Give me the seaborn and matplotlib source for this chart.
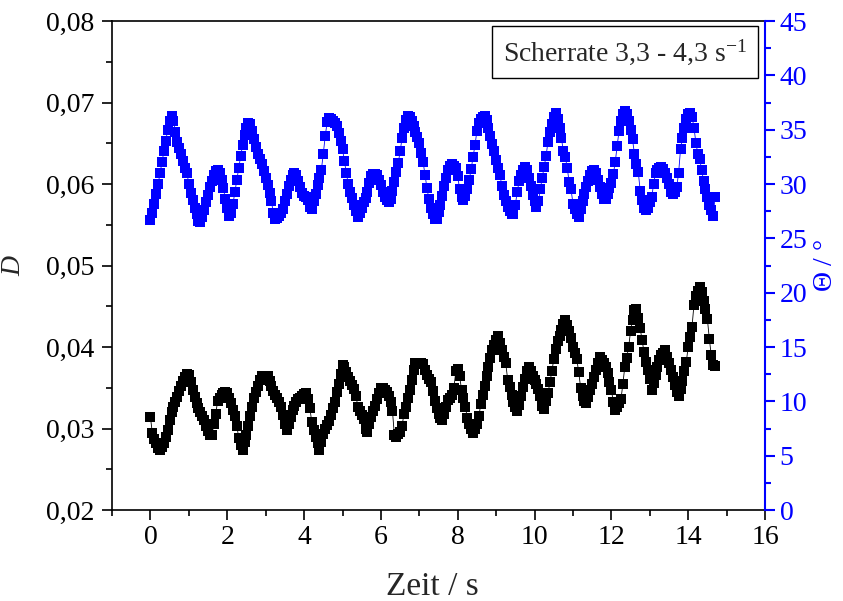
import numpy as np
import pandas as pd
import seaborn as sns
import matplotlib.pyplot as plt
from matplotlib.ticker import MultipleLocator, FuncFormatter

# sampling every 0.05 s, 0 .. 14.70 s
zeit = np.round(np.arange(295) * 0.05, 2)

# D (black, left axis)
d_werte = [
    0.0314, 0.0294, 0.0287, 0.0282, 0.0276, 0.0274, 0.0277, 0.0282, 0.0290, 0.0298,
    0.0310, 0.0320, 0.0327, 0.0333, 0.0339, 0.0346, 0.0352, 0.0358, 0.0363, 0.0367,
    0.0366, 0.0357, 0.0347, 0.0339, 0.0331, 0.0325, 0.0320, 0.0315, 0.0310, 0.0303,
    0.0297, 0.0292, 0.0292, 0.0305, 0.0318, 0.0334, 0.0338, 0.0341, 0.0344, 0.0345,
    0.0343, 0.0337, 0.0331, 0.0323, 0.0315, 0.0303, 0.0288, 0.0280, 0.0274, 0.0283,
    0.0292, 0.0303, 0.0315, 0.0326, 0.0337, 0.0345, 0.0352, 0.0360, 0.0364, 0.0365,
    0.0365, 0.0364, 0.0358, 0.0352, 0.0346, 0.0341, 0.0337, 0.0333, 0.0327, 0.0316,
    0.0305, 0.0298, 0.0305, 0.0314, 0.0323, 0.0328, 0.0333, 0.0336, 0.0338, 0.0340,
    0.0342, 0.0343, 0.0336, 0.0325, 0.0308, 0.0298, 0.0290, 0.0282, 0.0274, 0.0283,
    0.0293, 0.0300, 0.0304, 0.0309, 0.0317, 0.0325, 0.0333, 0.0345, 0.0355, 0.0367,
    0.0378, 0.0375, 0.0369, 0.0363, 0.0358, 0.0354, 0.0349, 0.0340, 0.0327, 0.0322,
    0.0317, 0.0312, 0.0300, 0.0296, 0.0306, 0.0314, 0.0321, 0.0328, 0.0336, 0.0344,
    0.0350, 0.0350, 0.0347, 0.0345, 0.0340, 0.0332, 0.0322, 0.0292, 0.0290, 0.0293,
    0.0296, 0.0303, 0.0318, 0.0327, 0.0337, 0.0347, 0.0359, 0.0372, 0.0380, 0.0381,
    0.0381, 0.0381, 0.0379, 0.0372, 0.0366, 0.0361, 0.0357, 0.0346, 0.0334, 0.0325,
    0.0318, 0.0313, 0.0310, 0.0318, 0.0326, 0.0335, 0.0338, 0.0341, 0.0350, 0.0370,
    0.0373, 0.0364, 0.0347, 0.0337, 0.0326, 0.0313, 0.0306, 0.0300, 0.0294, 0.0299,
    0.0305, 0.0315, 0.0330, 0.0341, 0.0352, 0.0364, 0.0375, 0.0387, 0.0396, 0.0403,
    0.0409, 0.0413, 0.0405, 0.0396, 0.0388, 0.0380, 0.0360, 0.0351, 0.0341, 0.0332,
    0.0326, 0.0322, 0.0329, 0.0340, 0.0351, 0.0361, 0.0371, 0.0375, 0.0370, 0.0365,
    0.0360, 0.0355, 0.0348, 0.0340, 0.0328, 0.0324, 0.0334, 0.0343, 0.0357, 0.0370,
    0.0385, 0.0397, 0.0407, 0.0414, 0.0421, 0.0428, 0.0433, 0.0427, 0.0420, 0.0411,
    0.0400, 0.0393, 0.0385, 0.0369, 0.0350, 0.0340, 0.0334, 0.0331, 0.0339, 0.0347,
    0.0355, 0.0363, 0.0372, 0.0381, 0.0388, 0.0384, 0.0380, 0.0375, 0.0368, 0.0357,
    0.0347, 0.0333, 0.0323, 0.0327, 0.0331, 0.0336, 0.0355, 0.0376, 0.0387, 0.0400,
    0.0420, 0.0433, 0.0445, 0.0447, 0.0435, 0.0423, 0.0408, 0.0394, 0.0382, 0.0372,
    0.0361, 0.0347, 0.0356, 0.0366, 0.0376, 0.0384, 0.0390, 0.0393, 0.0396, 0.0388,
    0.0380, 0.0372, 0.0363, 0.0353, 0.0345, 0.0340, 0.0349, 0.0358, 0.0370, 0.0382,
    0.0400, 0.0412, 0.0425, 0.0452, 0.0462, 0.0469, 0.0474, 0.0468, 0.0457, 0.0447,
    0.0434, 0.0410, 0.0390, 0.0378, 0.0377,
]

# Theta in degrees (blue, right axis)
theta_werte = [
    26.7, 27.3, 28.2, 29.1, 30.0, 31.0, 32.0, 33.0, 34.0, 35.0,
    35.8, 36.3, 35.8, 34.8, 33.9, 33.3, 32.8, 32.1, 31.5, 31.0,
    30.0, 29.2, 28.5, 27.8, 27.2, 26.6, 26.5, 27.0, 27.6, 28.3,
    29.0, 29.7, 30.3, 30.8, 31.2, 31.3, 31.0, 30.4, 29.6, 28.6,
    27.8, 27.1, 27.3, 28.2, 29.3, 30.4, 31.5, 32.6, 33.6, 34.5,
    35.2, 35.6, 35.5, 34.9, 34.1, 33.4, 32.8, 32.3, 31.8, 31.2,
    30.6, 29.9, 29.2, 28.4, 27.3, 26.8, 26.9, 27.1, 27.3, 27.7,
    28.4, 29.1, 29.8, 30.4, 30.8, 31.0, 30.8, 30.3, 29.7, 29.2,
    28.9, 28.8, 28.5, 27.9, 27.7, 28.4, 29.1, 29.9, 30.6, 31.3,
    32.8, 34.4, 35.7, 36.1, 36.0, 35.8, 35.6, 35.3, 34.7, 34.0,
    33.2, 32.1, 31.0, 30.0, 29.3, 28.7, 28.1, 27.5, 27.0, 27.3,
    27.8, 28.3, 28.7, 29.3, 30.1, 30.7, 30.9, 30.9, 30.8, 30.4,
    29.9, 29.3, 28.8, 28.5, 28.3, 28.6, 29.4, 30.2, 31.1, 31.9,
    33.0, 34.2, 35.2, 35.9, 36.3, 36.2, 35.8, 35.3, 34.8, 34.3,
    33.8, 32.9, 32.0, 30.8, 29.6, 28.6, 27.8, 27.2, 26.8, 26.8,
    27.4, 28.1, 28.9, 29.8, 30.6, 31.3, 31.7, 31.8, 31.7, 31.5,
    30.7, 29.5, 28.8, 28.5, 28.9, 29.5, 30.4, 31.4, 32.5, 33.6,
    34.9, 35.6, 36.0, 36.2, 36.3, 35.9, 35.2, 34.4, 33.7, 33.0,
    32.2, 31.5, 30.8, 29.8, 29.0, 28.4, 27.9, 27.5, 27.2, 27.2,
    28.1, 29.3, 30.3, 30.8, 31.3, 31.6, 31.3, 30.6, 29.8, 29.0,
    28.4, 27.9, 28.4, 29.5, 30.6, 31.6, 32.6, 33.9, 34.8, 35.5,
    36.2, 36.5, 36.0, 35.2, 34.2, 33.0, 32.5, 31.5, 30.2, 29.5,
    28.2, 27.7, 27.2, 27.0, 27.7, 28.4, 29.1, 29.7, 30.3, 30.8,
    31.2, 31.3, 31.0, 30.4, 29.7, 29.1, 28.6, 28.6, 29.1, 29.6,
    30.1, 30.9, 32.0, 33.5, 34.9, 35.8, 36.4, 36.7, 36.4, 35.8,
    35.0, 34.1, 32.8, 31.8, 31.1, 29.4, 28.5, 27.8, 27.6, 27.8,
    28.3, 28.8, 30.0, 31.0, 31.3, 31.5, 31.6, 31.4, 31.0, 30.6,
    30.0, 29.3, 29.1, 29.3, 29.7, 31.0, 33.2, 34.2, 35.2, 36.0,
    36.4, 36.5, 36.2, 35.2, 33.8, 32.8, 32.3, 31.3, 30.3, 29.5,
    28.8, 28.1, 27.6, 27.1, 28.8,
]

df = pd.DataFrame({'zeit': zeit, 'D': d_werte, 'theta': theta_werte})

sns.set_theme(style='ticks')
plt.rcParams['font.family'] = ['Liberation Serif', 'DejaVu Serif']
plt.rcParams['mathtext.fontset'] = 'custom'
plt.rcParams['mathtext.rm'] = 'Liberation Serif'
plt.rcParams['mathtext.it'] = 'Liberation Serif:italic'
plt.rcParams['mathtext.default'] = 'regular'

fig = plt.figure(figsize=(8.43, 6.01), dpi=100)
ax = fig.add_axes([0.1329, 0.1514, 0.7746, 0.8136])
ax2 = ax.twinx()

sns.lineplot(data=df, x='zeit', y='D', ax=ax, color='black', linewidth=0.6,
             marker='s', markersize=7, markeredgewidth=0, sort=False)
sns.lineplot(data=df, x='zeit', y='theta', ax=ax2, color='#0000ff', linewidth=0.6,
             marker='s', markersize=7, markeredgewidth=0, sort=False)

fs = 20
ax.set_xlim(-1, 16)
ax.set_ylim(0.02, 0.08)
ax2.set_ylim(0, 45)
ax.xaxis.set_major_locator(MultipleLocator(2))
ax.xaxis.set_minor_locator(MultipleLocator(1))
ax.yaxis.set_major_locator(MultipleLocator(0.01))
ax.yaxis.set_minor_locator(MultipleLocator(0.005))
ax2.yaxis.set_major_locator(MultipleLocator(5))
ax2.yaxis.set_minor_locator(MultipleLocator(2.5))
ax.yaxis.set_major_formatter(FuncFormatter(lambda v, p: f'{v:.2f}'.replace('.', ',')))

for s in ax.spines.values():
    s.set_linewidth(1.2)
    s.set_color('black')
ax.spines['right'].set_visible(False)
for side in ['left', 'top', 'bottom']:
    ax2.spines[side].set_visible(False)
ax2.spines['right'].set_color('#0000ff')
ax2.spines['right'].set_linewidth(1.5)

ax.tick_params(which='major', direction='out', length=7, width=1.2, labelsize=fs, colors='black')
ax.tick_params(which='minor', direction='out', length=4, width=1.2, colors='black')
ax.tick_params(axis='y', pad=6)
ax2.tick_params(which='major', direction='out', length=7, width=1.5, labelsize=fs,
                colors='#0000ff')
ax2.tick_params(which='minor', direction='out', length=4, width=1.5, colors='#0000ff')

ax.set_xlabel('Zeit / s', fontsize=24, labelpad=16)
ax.xaxis.label.set_x(0.49)
ax.set_ylabel('D', fontsize=fs, fontstyle='italic', labelpad=14)
ax2.set_ylabel(r'$\mathit{\Theta}$ / °', fontsize=fs, color='#0000ff', rotation=90, labelpad=4)

ax.text(0.786, 0.937, r'Scherrate 3,3 - 4,3 s$^{-1}$', transform=ax.transAxes,
        ha='center', va='center', fontsize=fs,
        bbox=dict(boxstyle='square,pad=0.4', facecolor='white', edgecolor='black', linewidth=1))

fig.savefig('out.png', dpi=100)
